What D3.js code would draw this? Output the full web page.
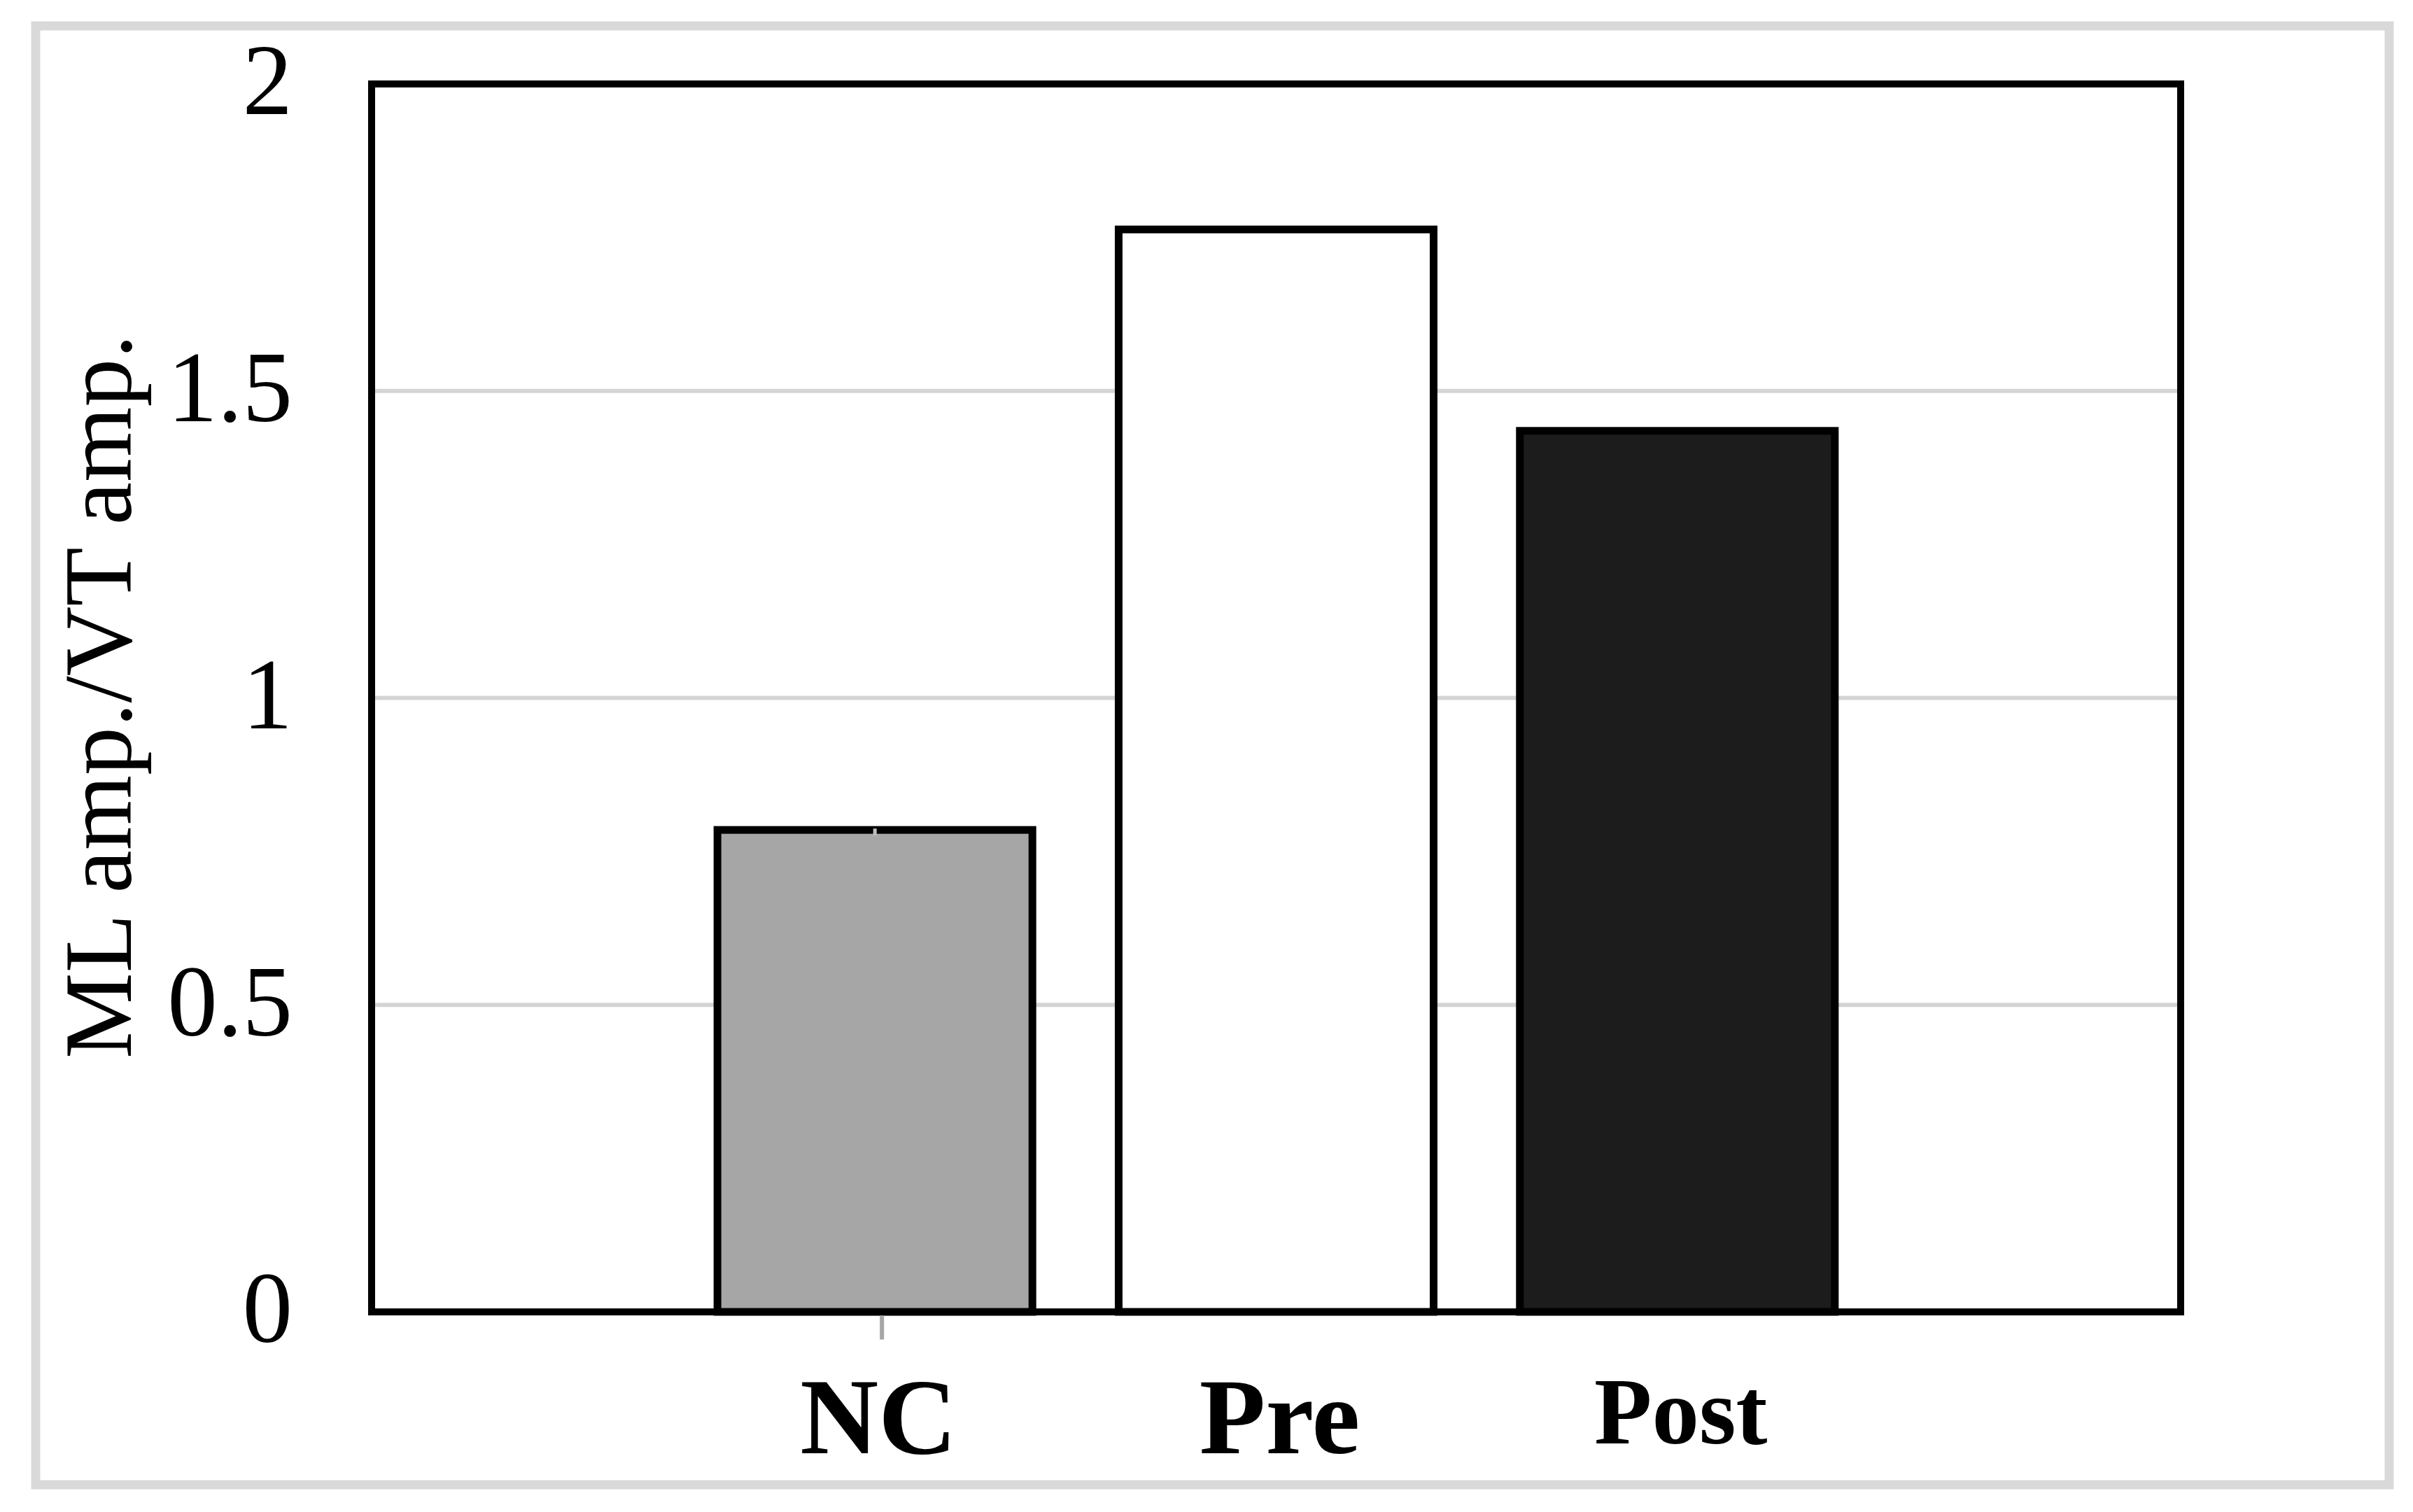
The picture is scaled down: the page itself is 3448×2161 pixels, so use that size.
<!DOCTYPE html>
<html lang="en">
<head>
    <meta charset="UTF-8">
    <title>ML amp./VT amp.</title>
    <style>
        body, html {
          margin: 0;
          background: #fff;
        }

        svg {
          display: block;
        }

        .grid line {
            stroke: #d4d4d4;
            stroke-width: 6px;
        }

        .bars rect {
            stroke: #000;
            stroke-width: 11px;
        }

        text {
            font-family: "Liberation Serif", "Times New Roman", serif;
            fill: #000;
        }
    </style>
</head>
<body>
    <svg></svg>

    <script src="https://d3js.org/d3.v7.min.js"></script>
    <script>
        // data
        const categories = ["NC", "Pre", "Post"];
        const values = [0.785, 1.763, 1.435];
        const barColors = ["#a6a6a6", "#ffffff", "#1c1c1c"];
        const yTicks = [0, 0.5, 1, 1.5, 2];
        const yTitle = "ML amp./VT amp.";

        const width = 3448, height = 2161;
        const plot = { left: 531, right: 3116, top: 120, bottom: 1875 };

        const svg = d3.select("svg")
            .attr("width", width)
            .attr("height", height);

        // light grey frame round the whole picture
        svg.append("rect")
            .attr("x", 51).attr("y", 37)
            .attr("width", 3414 - 51).attr("height", 2122 - 37)
            .attr("fill", "#fff")
            .attr("stroke", "#d9d9d9")
            .attr("stroke-width", 13);

        const x = d3.scaleBand()
            .domain(categories)
            .range([plot.left, plot.right])
            .paddingInner(0.215)
            .paddingOuter(0.862);

        const y = d3.scaleLinear()
            .domain([0, 2])
            .range([plot.bottom, plot.top]);

        // gridlines
        svg.append("g")
            .attr("class", "grid")
            .selectAll("line")
            .data(yTicks.filter(d => d > 0 && d < 2))
            .enter().append("line")
            .attr("x1", plot.left)
            .attr("x2", plot.right)
            .attr("y1", d => y(d))
            .attr("y2", d => y(d));

        // bars
        svg.append("g")
            .attr("class", "bars")
            .selectAll("rect")
            .data(categories)
            .enter().append("rect")
            .attr("x", d => x(d))
            .attr("width", x.bandwidth())
            .attr("y", (d, i) => y(values[i]))
            .attr("height", (d, i) => y(0) - y(values[i]))
            .attr("fill", (d, i) => barColors[i]);

        // faint leftover error marks on NC (below the axis and a notch on top)
        const ncX = x("NC") + x.bandwidth() / 2 + 10;
        svg.append("line")
            .attr("x1", ncX).attr("x2", ncX)
            .attr("y1", y(0)).attr("y2", y(-0.045))
            .attr("stroke", "#a6a6a6")
            .attr("stroke-width", 6);
        svg.append("line")
            .attr("x1", ncX - 10).attr("x2", ncX - 10)
            .attr("y1", y(values[0]) - 2).attr("y2", y(values[0]) + 8)
            .attr("stroke", "#bdbdbd")
            .attr("stroke-width", 5);

        // plot frame
        svg.append("rect")
            .attr("x", plot.left).attr("y", plot.top)
            .attr("width", plot.right - plot.left)
            .attr("height", plot.bottom - plot.top)
            .attr("fill", "none")
            .attr("stroke", "#000")
            .attr("stroke-width", 10);

        // y axis labels
        const yAxis = svg.append("g")
            .attr("transform", `translate(${plot.left},0)`)
            .call(d3.axisLeft(y).tickValues(yTicks).tickSize(0).tickPadding(113).tickFormat(d3.format("")));
        yAxis.select(".domain").remove();
        yAxis.selectAll("text")
            .attr("dy", "0.30em")
            .style("font-size", "143px")
            .style("font-family", "'Liberation Serif', serif");

        // x labels (Post is set a little smaller in the original)
        svg.append("g")
            .selectAll("text")
            .data(categories)
            .enter().append("text")
            .attr("x", d => x(d) + x.bandwidth() / 2 + 5)
            .attr("y", d => d === "Post" ? plot.bottom + 188 : plot.bottom + 202)
            .attr("text-anchor", "middle")
            .style("font-weight", "bold")
            .style("font-size", d => d === "Post" ? "135px" : "155px")
            .text(d => d);

        // y title
        svg.append("text")
            .attr("transform", `translate(187,${(plot.top + plot.bottom) / 2 - 2}) rotate(-90)`)
            .attr("text-anchor", "middle")
            .style("font-size", "138px")
            .text(yTitle);
    </script>
</body>
</html>
